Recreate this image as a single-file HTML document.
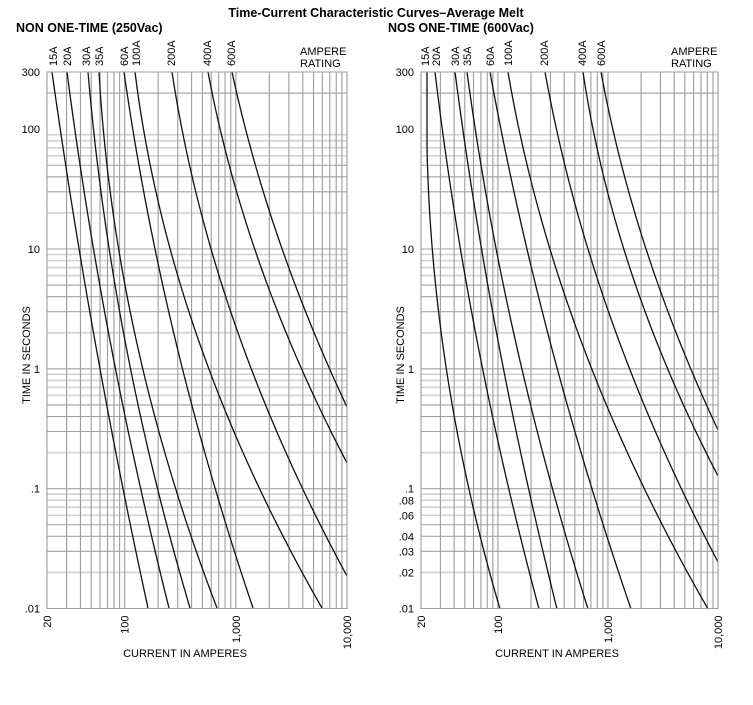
<!DOCTYPE html>
<html><head><meta charset="utf-8">
<style>
html,body{margin:0;padding:0;background:#fff;}
svg{display:block;font-family:"Liberation Sans",Arial,sans-serif;}
</style></head>
<body>
<svg id="s" width="753" height="705" viewBox="0 0 753 705" xmlns="http://www.w3.org/2000/svg">
<text x="376" y="17" text-anchor="middle" font-size="12.5" font-weight="bold">Time-Current Characteristic Curves–Average Melt</text>
<text x="16" y="32" font-size="12.5" font-weight="bold">NON ONE-TIME (250Vac)</text>
<text x="388" y="32" font-size="12.5" font-weight="bold">NOS ONE-TIME (600Vac)</text>
</svg>
<script>
var S=document.getElementById('s'),NS='http://www.w3.org/2000/svg';
function el(t,a,txt){var e=document.createElementNS(NS,t);for(var k in a)e.setAttribute(k,a[k]);if(txt!=null)e.textContent=txt;S.appendChild(e);return e;}
var Y0=72,Y1=608.5,LT=Math.log10(300),LB=-2;
function yv(v){return Y0+(LT-Math.log10(v))/(LT-LB)*(Y1-Y0);}
function chart(x0,x1,extraY,amps,curves,axx){
  function xv(v){return x0+(Math.log10(v)-Math.log10(20))/Math.log10(500)*(x1-x0);}
  var hv=[300,200];
  for(var d=1;d>=-2;d--){for(var m=9;m>=1;m--){var v=m*Math.pow(10,d);if(v<=100)hv.push(v);}}
  hv.forEach(function(v){var m=Math.round(v/Math.pow(10,Math.floor(Math.log10(v)+1e-9)));
    var light=(m>=6&&m<=9)||m==2&&v!=200;
    el('line',{x1:x0,x2:x1,y1:yv(v),y2:yv(v),stroke:light?'#d2d2d2':'#a2a2a2','stroke-width':light?1.6:1.1});});
  var vv=[];for(var d=1;d<=3;d++)for(var m=1;m<=9;m++){var v=m*Math.pow(10,d);if(v>=20)vv.push(v);}vv.push(10000);
  vv.forEach(function(v){el('line',{x1:xv(v),x2:xv(v),y1:Y0,y2:Y1,stroke:'#9c9c9c','stroke-width':1.1});});
  var yl=[[300,'300'],[100,'100'],[10,'10'],[1,'1'],[0.1,'.1'],[0.01,'.01']].concat(extraY);
  yl.forEach(function(p){el('text',{x:x0-7,y:yv(p[0])+4,'text-anchor':'end','font-size':11},p[1]);});
  [[20,'20'],[100,'100'],[1000,'1,000'],[10000,'10,000']].forEach(function(p){
    var x=xv(p[0])+4,y=Y1+7;
    el('text',{x:x,y:y,'text-anchor':'end','font-size':11,transform:'rotate(-90 '+x+' '+y+')'},p[1]);});
  amps.forEach(function(p){var x=p[1]+4,y=66;
    el('text',{x:x,y:y,'font-size':11,transform:'rotate(-90 '+x+' '+y+')'},p[0]);});
  el('text',{x:x1-47,y:55,'font-size':11},'AMPERE');
  el('text',{x:x1-47,y:67,'font-size':11},'RATING');
  el('text',{x:axx,y:657,'text-anchor':'middle','font-size':11},'CURRENT IN AMPERES');
  var tx=x0-17,ty=355;
  el('text',{x:tx,y:ty,'text-anchor':'middle','font-size':11,transform:'rotate(-90 '+tx+' '+ty+')'},'TIME IN SECONDS');
  curves.forEach(function(P){
    var a=P[0],b=P[1],c=P[2];
    function X(y){return a[0]*(y-b[1])*(y-c[1])/((a[1]-b[1])*(a[1]-c[1]))+b[0]*(y-a[1])*(y-c[1])/((b[1]-a[1])*(b[1]-c[1]))+c[0]*(y-a[1])*(y-b[1])/((c[1]-a[1])*(c[1]-b[1]));}
    var d='';
    for(var i=0;i<=60;i++){var y=a[1]+(c[1]-a[1])*i/60;d+=(i?' L':'M')+Math.max(X(y),a[0]).toFixed(2)+','+y.toFixed(2);}
    el('path',{d:d,fill:'none',stroke:'#111','stroke-width':1.3});
  });
  el('rect',{x:x0,y:Y0,width:x1-x0,height:Y1-Y0,fill:'none',stroke:'#9c9c9c','stroke-width':1});
}
chart(47,347,[],
 [['15A',53],['20A',67],['30A',86],['35A',99],['60A',124],['100A',136],['200A',171],['400A',207],['600A',231]],
 [
 [[52,72],[93,330],[148,608]],
 [[67,72],[108,330],[169,608]],
 [[88,72],[123,330],[190,608]],
 [[99,72],[134,330],[217,608]],
 [[124,72],[173,330],[253,608]],
 [[135,72],[195,330],[322,608]],
 [[172,72],[237,330],[347,576]],
 [[208,72],[285,330],[347,463]],
 [[232,72],[313,330],[347,407]]
 ],185);
chart(421,718,[[0.08,'.08'],[0.06,'.06'],[0.04,'.04'],[0.03,'.03'],[0.02,'.02']],
 [['15A',425],['20A',436],['30A',455],['35A',467],['60A',490],['100A',508],['200A',544],['400A',582],['600A',601]],
 [
 [[427,72],[445,360],[500,609]],
 [[435,72],[475,330],[539,609]],
 [[455,72],[496,330],[557,609]],
 [[467,72],[513,330],[588,609]],
 [[490,72],[547,330],[631,609]],
 [[508,72],[577,330],[708,609]],
 [[545,72],[615,330],[718,562]],
 [[583,72],[652,330],[718,476]],
 [[601,72],[675,330],[718,430]]
 ],557);
</script>
</body></html>
